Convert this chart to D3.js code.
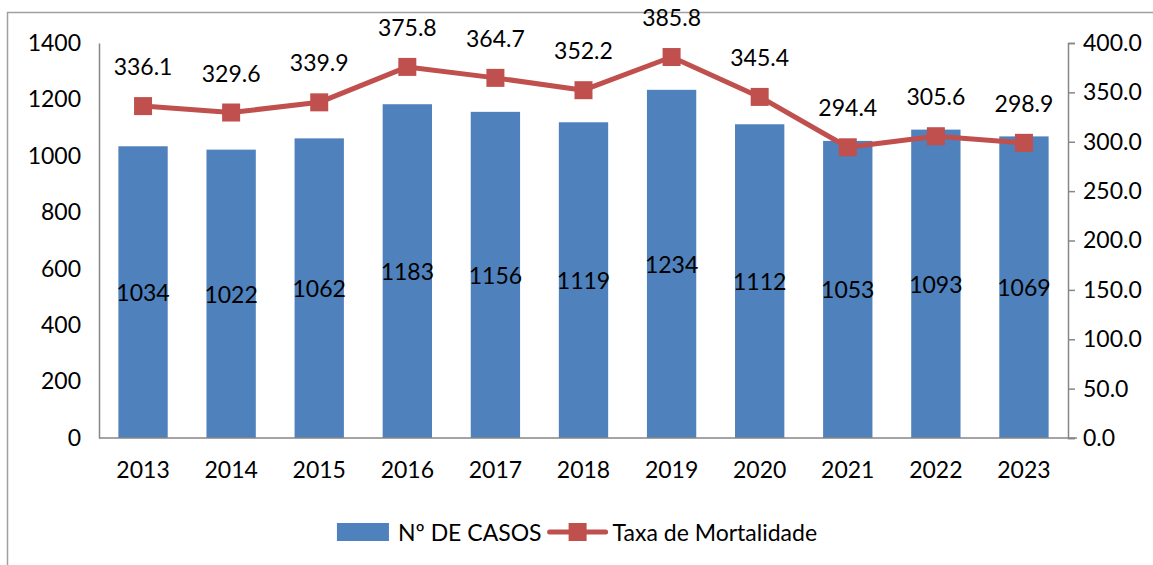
<!DOCTYPE html>
<html><head><meta charset="utf-8">
<script src="https://cdn.jsdelivr.net/npm/d3@7"></script>
<style>body{margin:0;background:#fff}svg{display:block}text{font-family:Lato,"Open Sans",sans-serif;fill:#000}</style>
</head><body><svg id="c" width="1153" height="565"></svg>
<script>
const years = ["2013","2014","2015","2016","2017","2018","2019","2020","2021","2022","2023"];
const casos = [1034,1022,1062,1183,1156,1119,1234,1112,1053,1093,1069];
const taxa = [336.1,329.6,339.9,375.8,364.7,352.2,385.8,345.4,294.4,305.6,298.9];
const leftTicks = [0,200,400,600,800,1000,1200,1400];
const rightTicks = [0,50,100,150,200,250,300,350,400];
const seriesNames = ["Nº DE CASOS","Taxa de Mortalidade"];

const svg = d3.select("#c");
const L = 99, R = 1068, T = 43, B = 438;
const blue = "#4F81BD", red = "#C0504D", grey = "#868686";
const FS = "23px";

svg.append("rect").attr("x",7.5).attr("y",12.5).attr("width",1200).attr("height",600)
  .attr("fill","none").attr("stroke","#a0a0a0").attr("stroke-width",1.5);

const x = d3.scaleBand().domain(years).range([L,R]).paddingInner(0.44).paddingOuter(0.22);
const yL = d3.scaleLinear().domain([0,1400]).range([B,T]);
const yR = d3.scaleLinear().domain([0,400]).range([B,T]);

// bars
svg.selectAll("rect.bar").data(casos).join("rect").attr("class","bar")
  .attr("x",(d,i)=>x(years[i])).attr("width",x.bandwidth())
  .attr("y",d=>yL(d)).attr("height",d=>B-yL(d)).attr("fill",blue);

// axes
const axL = svg.append("g").attr("transform",`translate(${L},0)`)
  .call(d3.axisLeft(yL).tickValues(leftTicks).tickSize(0).tickPadding(18).tickFormat(d3.format("d")));
const axR = svg.append("g").attr("transform",`translate(${R},0)`)
  .call(d3.axisRight(yR).tickValues(rightTicks).tickSize(7).tickPadding(8).tickFormat(d3.format(".1f")));
const axB = svg.append("g").attr("transform",`translate(0,${B})`)
  .call(d3.axisBottom(x).tickSize(0).tickPadding(24));
[axL,axR,axB].forEach(a=>{
  a.selectAll("path.domain").attr("stroke",grey).attr("stroke-width",1.5);
  a.selectAll(".tick line").attr("stroke",grey).attr("stroke-width",1.5);
  a.selectAll("text").style("font-size",FS).style("font-family","Lato,'Open Sans',sans-serif").attr("fill","#000");
});
axB.select("path.domain").attr("d",`M${L},0H${R+9}`);

// bar labels
svg.selectAll("text.bl").data(casos).join("text").attr("class","bl")
  .attr("x",(d,i)=>x(years[i])+x.bandwidth()/2).attr("y",d=>(yL(d)+B)/2)
  .attr("text-anchor","middle").attr("dominant-baseline","central").style("font-size",FS).text(d=>d);

// line
const cx = (i)=>x(years[i])+x.bandwidth()/2;
svg.append("path").datum(taxa).attr("fill","none").attr("stroke",red).attr("stroke-width",5)
  .attr("stroke-linejoin","round")
  .attr("d",d3.line().x((d,i)=>cx(i)).y(d=>yR(d)));
const ms = 18;
svg.selectAll("rect.mk").data(taxa).join("rect").attr("class","mk")
  .attr("x",(d,i)=>cx(i)-ms/2).attr("y",d=>yR(d)-ms/2).attr("width",ms).attr("height",ms).attr("fill",red);
svg.selectAll("text.ll").data(taxa).join("text").attr("class","ll")
  .attr("x",(d,i)=>cx(i)).attr("y",d=>yR(d)-40)
  .attr("text-anchor","middle").attr("dominant-baseline","central").style("font-size",FS).text(d=>d.toFixed(1));

// legend (laid out from measured text widths, centred)
const lg = svg.append("g");
const ly = 532;
const sw = lg.append("rect").attr("y",ly-9).attr("width",52).attr("height",18).attr("fill",blue);
const t1 = lg.append("text").attr("y",ly).attr("dominant-baseline","central").style("font-size",FS).text(seriesNames[0]);
const ln = lg.append("line").attr("y1",ly).attr("y2",ly).attr("stroke",red).attr("stroke-width",5).attr("stroke-linecap","round");
const mk = lg.append("rect").attr("y",ly-9).attr("width",18).attr("height",18).attr("fill",red);
const t2 = lg.append("text").attr("y",ly).attr("dominant-baseline","central").style("font-size",FS).text(seriesNames[1]);
const w1 = t1.node().getComputedTextLength(), w2 = t2.node().getComputedTextLength();
const total = 52 + 9 + w1 + 8 + 56 + 7 + w2;
let px = 577 - total/2;
sw.attr("x",px); px += 52 + 9;
t1.attr("x",px); px += w1 + 8;
ln.attr("x1",px).attr("x2",px+56); mk.attr("x",px+19); px += 56 + 7;
t2.attr("x",px);
</script></body></html>
